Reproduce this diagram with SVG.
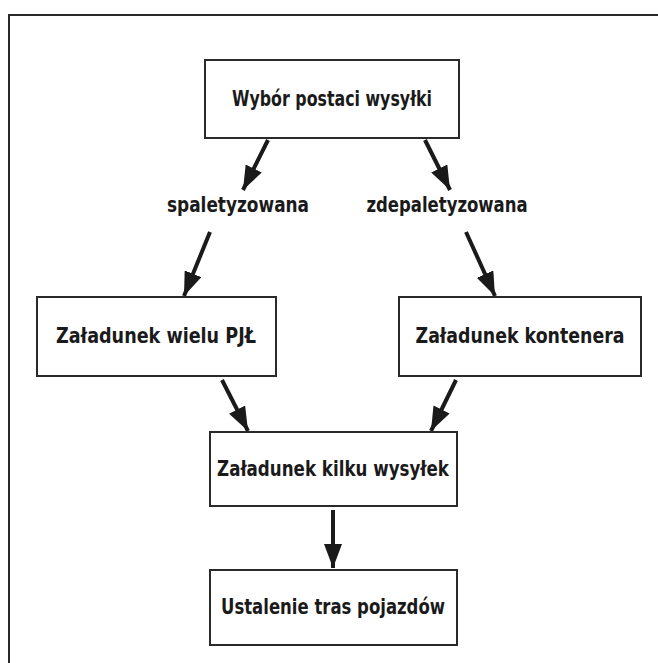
<svg xmlns="http://www.w3.org/2000/svg" width="658" height="663" viewBox="0 0 658 663">
<style>
.box{fill:#fff;stroke:#2a2a2a;stroke-width:2}
.t{font-family:"DejaVu Sans","Liberation Sans",sans-serif;font-weight:bold;font-size:22px;fill:#1a1a1a;text-anchor:middle;dominant-baseline:central}
.c{stroke:#1a1a1a;stroke-width:4;fill:none;marker-end:url(#ah)}
</style>
<defs>
<marker id="ah" markerUnits="userSpaceOnUse" markerWidth="24" markerHeight="18" refX="24" refY="9" orient="auto" viewBox="0 0 24 18">
<path d="M0,0 L24,9 L0,18 Z" fill="#1a1a1a"/>
</marker>
</defs>
<rect width="658" height="663" fill="#fff"/>
<path d="M9,663 V15 H658" fill="none" stroke="#2a2a2a" stroke-width="2"/>
<g id="connectors">
<line class="c" x1="268" y1="140" x2="243" y2="190"/>
<line class="c" x1="425" y1="140" x2="450" y2="190"/>
<line class="c" x1="210" y1="232" x2="184" y2="296"/>
<line class="c" x1="466" y1="232" x2="495" y2="296"/>
<line class="c" x1="222" y1="380" x2="248" y2="431"/>
<line class="c" x1="456" y1="380" x2="431" y2="431"/>
<line class="c" x1="333" y1="510" x2="333" y2="568"/>
</g>
<g id="n1"><rect class="box" x="205" y="60" width="254" height="78"/><text class="t" transform="translate(332,99) scale(0.72,1)">Wybór postaci wysyłki</text></g>
<g id="l1"><text class="t" transform="translate(238,205) scale(0.77,1)">spaletyzowana</text></g>
<g id="l2"><text class="t" transform="translate(447,205) scale(0.75,1)">zdepaletyzowana</text></g>
<g id="n2"><rect class="box" x="37" y="297" width="239" height="79"/><text class="t" transform="translate(156,336) scale(0.8,1)">Załadunek wielu PJŁ</text></g>
<g id="n3"><rect class="box" x="399" y="297" width="242" height="79"/><text class="t" transform="translate(520,336) scale(0.79,1)">Załadunek kontenera</text></g>
<g id="n4"><rect class="box" x="210" y="432" width="247" height="74"/><text class="t" transform="translate(333,469) scale(0.76,1)">Załadunek kilku wysyłek</text></g>
<g id="n5"><rect class="box" x="210" y="570" width="247" height="75"/><text class="t" transform="translate(333,607) scale(0.75,1)">Ustalenie tras pojazdów</text></g>
</svg>
